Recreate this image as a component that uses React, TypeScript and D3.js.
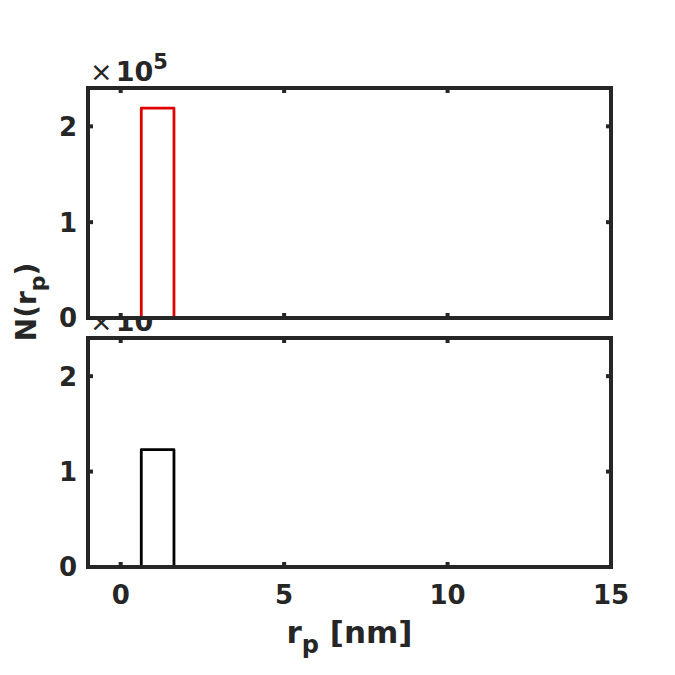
import React from "react";
import * as d3 from "d3";

const binEdges = [0.63, 1.63];
const topCounts = [2.19e5];
const bottomCounts = [1.23e5];
const xTicks = [0, 5, 10, 15];
const yTicks = [0, 1e5, 2e5];

const W = 675, H = 675;
const left = 88, right = 611;
const topPanel = { y0: 88, y1: 318 };
const botPanel = { y0: 338, y1: 567 };
const axisColor = "#262626";
const font = "DejaVu Sans";

function Panel({ y0, y1, counts, color, showX }: any) {
  const x = d3.scaleLinear().domain([-1, 15]).range([left, right]);
  const y = d3.scaleLinear().domain([0, 2.4e5]).range([y1, y0]);
  const pts: [number, number][] = [];
  pts.push([x(binEdges[0]), y(0)]);
  counts.forEach((c: number, i: number) => {
    pts.push([x(binEdges[i]), y(c)]);
    pts.push([x(binEdges[i + 1]), y(c)]);
  });
  pts.push([x(binEdges[binEdges.length - 1]), y(0)]);
  const line = d3.line()(pts) as string;
  const tl = 5;
  return (
    <g>
      <rect x={left} y={y0} width={right - left} height={y1 - y0} fill="white" />
      <path d={line} fill="none" stroke={color} strokeWidth={2.8} strokeLinejoin="round" />
      {xTicks.map((t) => (
        <g key={"xt" + t}>
          <line x1={x(t)} x2={x(t)} y1={y1} y2={y1 - tl} stroke={axisColor} strokeWidth={4} />
          <line x1={x(t)} x2={x(t)} y1={y0} y2={y0 + tl} stroke={axisColor} strokeWidth={4} />
        </g>
      ))}
      {yTicks.map((t) => (
        <g key={"yt" + t}>
          <line x1={left} x2={left + tl} y1={y(t)} y2={y(t)} stroke={axisColor} strokeWidth={4} />
          <line x1={right} x2={right - tl} y1={y(t)} y2={y(t)} stroke={axisColor} strokeWidth={4} />
          <text x={left - 11} y={y(t)} dy="0.36em" textAnchor="end" fontFamily={font} fontWeight="bold" fontSize={26} fill={axisColor}>
            {t / 1e5}
          </text>
        </g>
      ))}
      <rect x={left} y={y0} width={right - left} height={y1 - y0} fill="none" stroke={axisColor} strokeWidth={4} />
      {showX && xTicks.map((t) => (
        <text key={"xl" + t} x={x(t)} y={y1 + 37} textAnchor="middle" fontFamily={font} fontWeight="bold" fontSize={26} fill={axisColor}>
          {t}
        </text>
      ))}
      <text x={left + 2} y={y0 - 7} fontFamily={font} fontSize={27} fill={axisColor}>
        <tspan fontWeight="normal">×</tspan>
        <tspan fontWeight="bold" dx="3">10</tspan>
        <tspan fontWeight="bold" fontSize={21} dy="-12">5</tspan>
      </text>
    </g>
  );
}

export default function App() {
  return (
    <svg width={W} height={H} style={{ position: "absolute", left: 0, top: 0, background: "white" }}>
      <rect width={W} height={H} fill="white" />
      <Panel {...botPanel} counts={bottomCounts} color="#000000" showX={true} />
      <Panel {...topPanel} counts={topCounts} color="#e00000" showX={false} />
      <text x={(left + right) / 2} y={643} textAnchor="middle" fontFamily={font} fontWeight="bold" fontSize={31} fill={axisColor}>
        r<tspan fontSize={24} dy="10">p</tspan><tspan dy="-10"> [nm]</tspan>
      </text>
      <text transform="translate(36,302) rotate(-90)" textAnchor="middle" fontFamily={font} fontWeight="bold" fontSize={28} fill={axisColor}>
        N(r<tspan fontSize={22} dy="9">p</tspan><tspan dy="-9">)</tspan>
      </text>
    </svg>
  );
}
